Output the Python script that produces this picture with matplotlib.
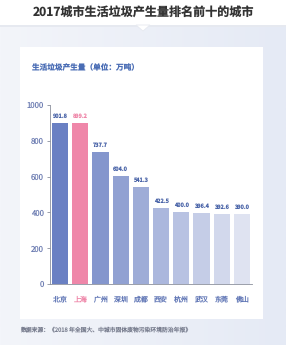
import matplotlib
matplotlib.use("Agg")
import matplotlib.pyplot as plt
import numpy as np
from matplotlib.patches import Rectangle, Polygon
import matplotlib.colors as mcolors
import matplotlib.transforms as mtransforms

plt.rcParams['font.family'] = ['Noto Sans CJK SC', 'DejaVu Sans']
plt.rcParams['text.hinting'] = 'no_hinting'
plt.rcParams['text.hinting_factor'] = 1

cities = ["北京", "上海", "广州", "深圳", "成都", "西安", "杭州", "武汉", "东莞", "佛山"]
values = [901.8, 899.2, 737.7, 604.0, 541.3, 422.5, 400.0, 396.4, 392.6, 390.0]
labels = ["901.8", "899.2", "737.7", "604.0", "541.3", "422.5", "400.0", "396.4", "392.6", "390.0"]
yticks = [0, 200, 400, 600, 800, 1000]

W, H = 286, 345
fig = plt.figure(figsize=(W / 100, H / 100), dpi=100)

# background
bg = fig.add_axes([0, 0, 1, 1])
bg.set_xlim(0, W)
bg.set_ylim(H, 0)
bg.axis('off')
grad = np.linspace(0, 1, 256).reshape(1, -1)
cmap_bg = mcolors.LinearSegmentedColormap.from_list('bg', ['#f3f5fa', '#e5eaf5'])
bg.imshow(grad, extent=[0, W, H, 0], aspect='auto', cmap=cmap_bg, zorder=0)
bg.add_patch(Rectangle((0, 0), W, 25, facecolor='white', edgecolor='none', zorder=1))
bg.add_patch(Rectangle((0, 25), W, 2, facecolor='#e6e9f0', edgecolor='none', zorder=1))
bg.add_patch(Polygon([[136, 25], [150, 25], [143, 31]], closed=True, facecolor='white',
                     edgecolor='#e6e9f0', lw=0.6, zorder=2))
bg.add_patch(Rectangle((20, 47), 243, 272, facecolor='white', edgecolor='none', zorder=1))

fig.text(143 / W, 1 - 12 / H, "2017城市生活垃圾产生量排名前十的城市", ha='center', va='center',
         fontsize=8.7, fontweight='bold', color='#333333')
fig.text(32 / W, 1 - 68 / H, "生活垃圾产生量（单位：万吨）", ha='left', va='center',
         fontsize=5.5, fontweight='bold', color='#4a6db5')
fig.text(20 / W, 1 - 330 / H, "数据来源：《2018 年全国大、中城市固体废物污染环境防治年报》", ha='left', va='center',
         fontsize=4.2, color='#7a7f90')

# chart axes
left, right, top, bottom = 50, 252, 105, 284
ax = fig.add_axes([left / W, 1 - bottom / H, (right - left) / W, (bottom - top) / H])
ax.set_facecolor('none')

c0 = np.array(mcolors.to_rgb('#6a80c3'))
c1 = np.array(mcolors.to_rgb('#dfe3f1'))
colors = []
for i in range(len(values)):
    t = i / (len(values) - 1)
    colors.append(tuple(c0 * (1 - t) + c1 * t))
colors[1] = '#ef87a9'

x = np.arange(len(cities))
ax.bar(x, values, width=0.8, color=colors, zorder=2)
for i, (v, lab) in enumerate(zip(values, labels)):
    ax.text(i, v + 22, lab, ha='center', va='bottom', fontsize=4.0, fontweight='bold',
            color='#ef87a9' if i == 1 else '#4a64a8', clip_on=False)

ax.set_xlim(-0.5, len(cities) - 0.5)
ax.set_ylim(0, 1000)
ax.set_yticks(yticks)
ax.set_yticklabels([str(t) for t in yticks])
ax.set_xticks([])
trans = mtransforms.blended_transform_factory(ax.transData, ax.transAxes)
for i, c in enumerate(cities):
    ax.text(i, -0.095, c, transform=trans, ha='center', va='baseline', fontsize=5.0,
            color='#ef87a9' if i == 1 else '#5f75b5', clip_on=False)
ax.tick_params(axis='y', length=2.5, width=0.6, color='#8a8f9c', pad=2, labelsize=5.6, labelcolor='#6f7fb3')
for s in ['top', 'right']:
    ax.spines[s].set_visible(False)
for s in ['left', 'bottom']:
    ax.spines[s].set_color('#8a8f9c')
    ax.spines[s].set_linewidth(0.6)

fig.savefig('out.png', dpi=100)
